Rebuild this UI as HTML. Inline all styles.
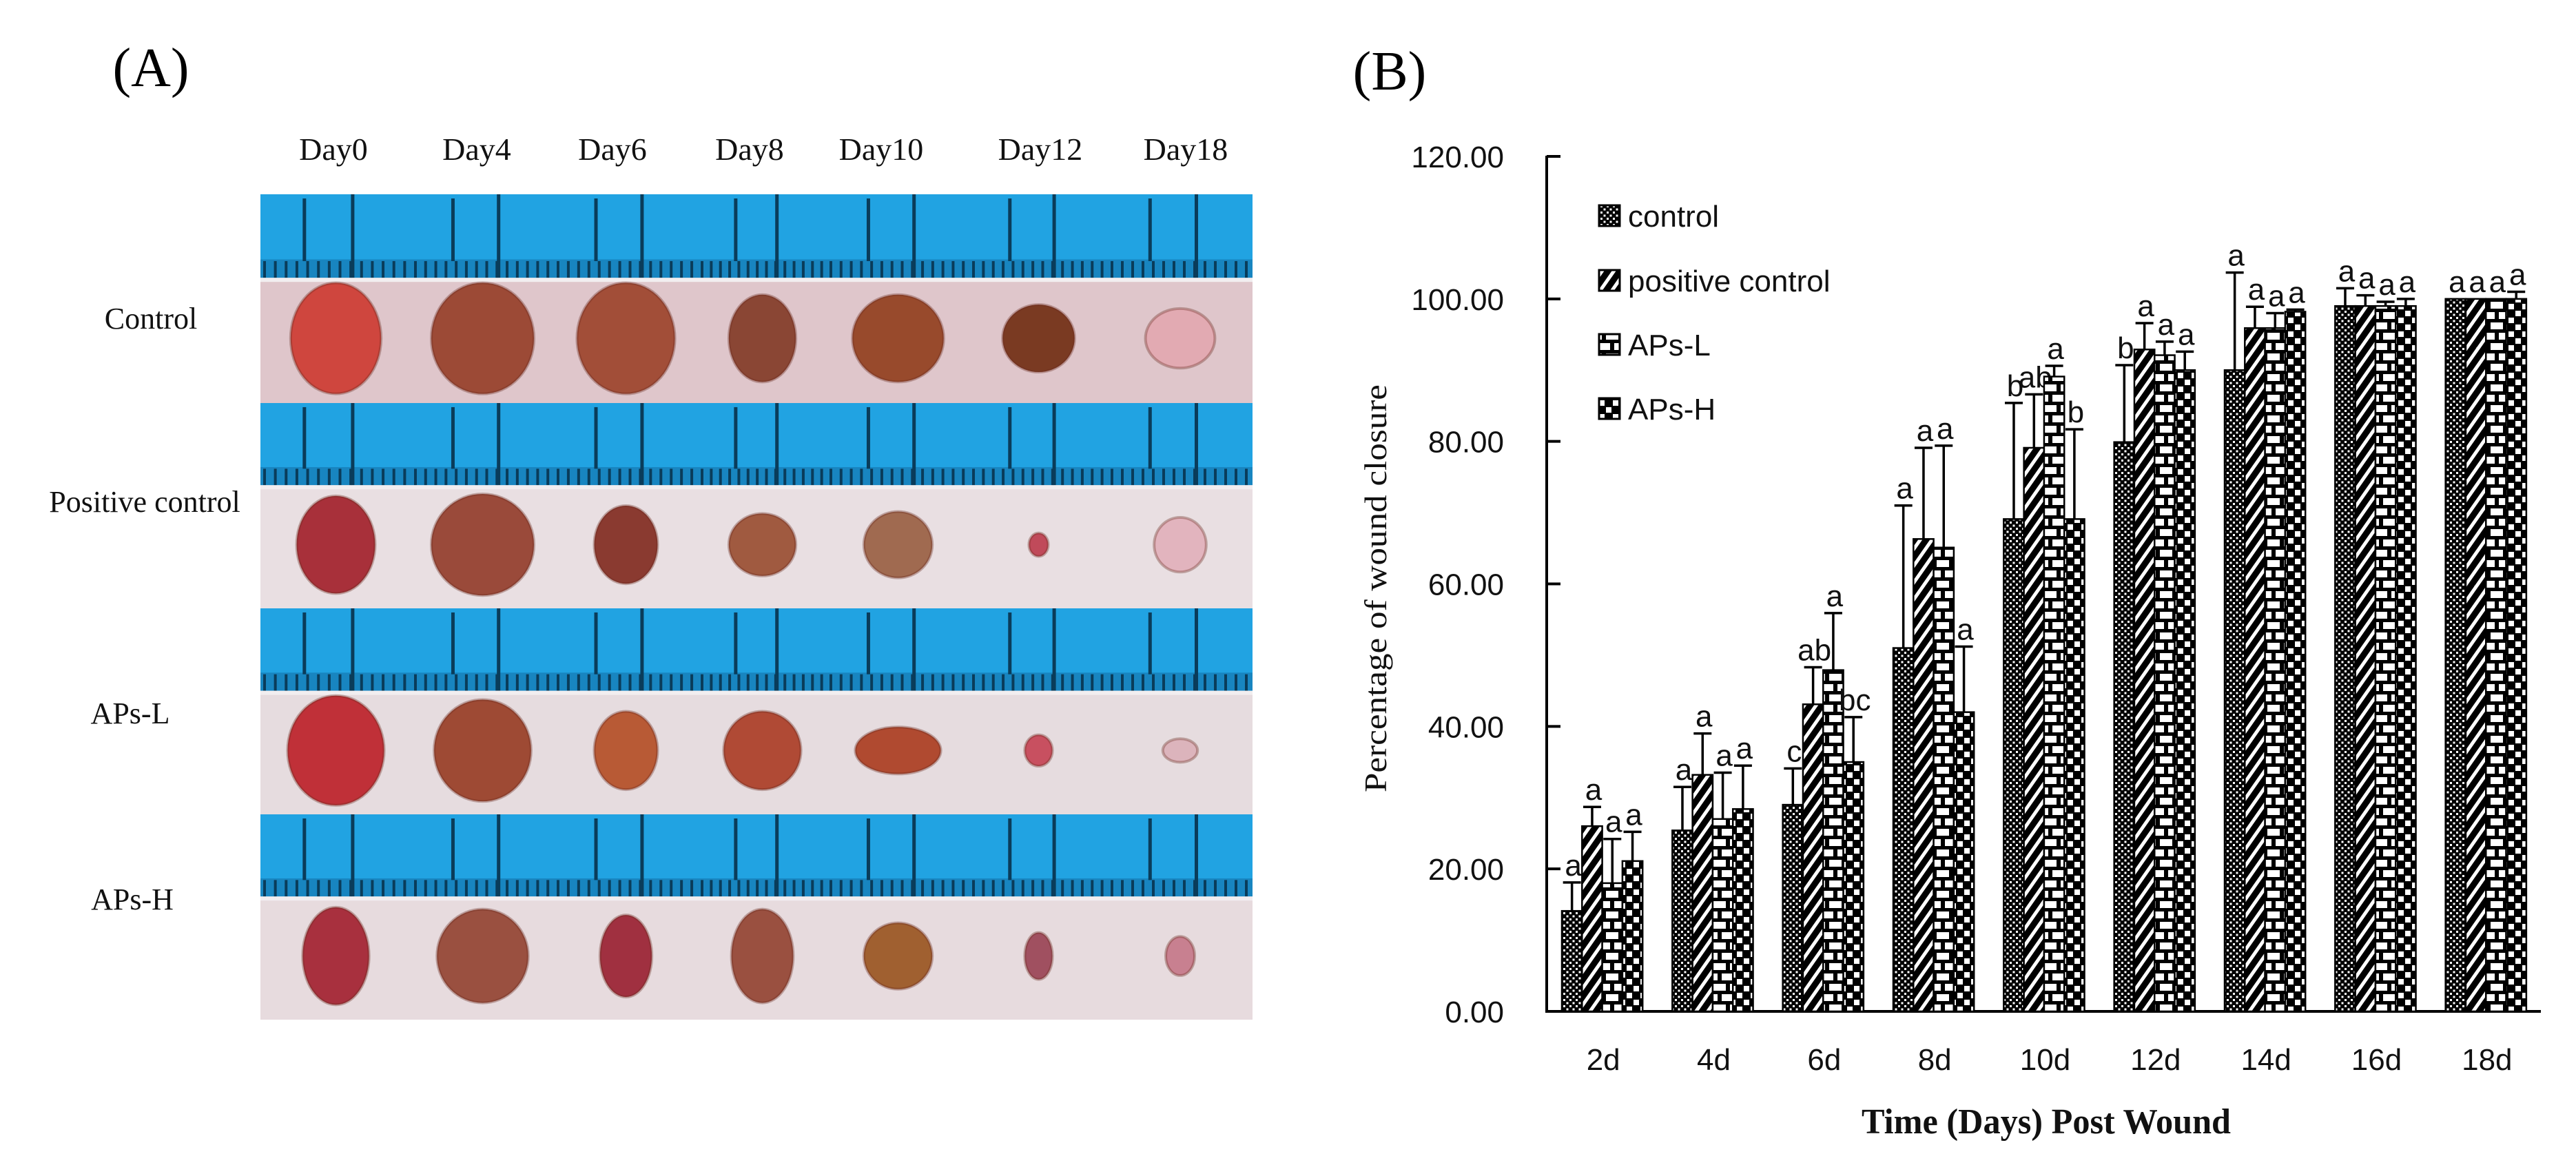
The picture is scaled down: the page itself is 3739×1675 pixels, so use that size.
<!DOCTYPE html>
<html><head><meta charset="utf-8"><style>
html,body{margin:0;padding:0;background:#fff}
svg{display:block}
.sans{font-family:"Liberation Sans",sans-serif}
.serif{font-family:"Liberation Serif",serif}
</style></head><body>
<svg id="fig" width="3739" height="1675" viewBox="0 0 3739 1675" xmlns="http://www.w3.org/2000/svg">
<defs>
<pattern id="pCtrl" patternUnits="userSpaceOnUse" width="9" height="9"><rect width="9" height="9" fill="#000"/><rect x="1" y="1" width="3" height="3" fill="#fff"/><rect x="5.5" y="5.5" width="3" height="3" fill="#fff"/></pattern>
<pattern id="pPos" patternUnits="userSpaceOnUse" width="14" height="14" patternTransform="rotate(35)"><rect width="14" height="14" fill="#000"/><rect x="0" y="0" width="5" height="14" fill="#fff"/></pattern>
<pattern id="pL" patternUnits="userSpaceOnUse" width="24" height="30"><rect width="24" height="30" fill="#000"/><rect x="3" y="3" width="18" height="10" fill="#fff"/><rect x="-9" y="18" width="18" height="10" fill="#fff"/><rect x="15" y="18" width="18" height="10" fill="#fff"/></pattern>
<pattern id="pH" patternUnits="userSpaceOnUse" width="20" height="20"><rect width="20" height="20" fill="#000"/><rect x="1" y="1" width="8" height="8" fill="#fff"/><rect x="11" y="11" width="8" height="8" fill="#fff"/></pattern>
</defs>

<!-- Panel A -->
<text x="219" y="125" text-anchor="middle" class="serif" font-size="80">(A)</text>
<g id="photoGrid"></g>

<!-- Panel B -->
<text x="2017" y="130" text-anchor="middle" class="serif" font-size="80">(B)</text>
<g id="chart"></g>
</svg>
<script>
// ---------- Chart data ----------
const categories = ["2d","4d","6d","8d","10d","12d","14d","16d","18d"];
const seriesNames = ["control","positive control","APs-L","APs-H"];
const controlVals = [14.1,25.4,29.0,51.0,69.1,79.9,90.0,99.0,100.0];
const positiveVals = [26.0,33.2,43.1,66.3,79.1,92.9,95.9,99.0,100.0];
const apsLVals = [18.0,27.0,47.9,65.1,89.1,92.1,95.9,99.0,100.0];
const apsHVals = [21.1,28.4,35.0,42.0,69.1,90.0,98.2,99.0,100.0];
const controlErr = [4.0,6.1,5.1,20.0,16.3,10.8,13.7,2.5,0];
const positiveErr = [2.7,5.8,5.2,12.8,7.5,3.7,3.0,1.5,0];
const apsLErr = [6.2,6.5,8.0,14.3,1.5,1.9,2.1,0.6,0];
const apsHErr = [4.1,6.1,6.3,9.2,12.6,2.6,0.3,1.0,1.0];
const controlSig = ["a","a","c","a","b","b","a","a","a"];
const positiveSig = ["a","a","ab","a","ab","a","a","a","a"];
const apsLSig = ["a","a","a","a","a","a","a","a","a"];
const apsHSig = ["a","a","bc","a","b","a","a","a","a"];
const yTicks = [0,20,40,60,80,100,120];
const yTickLabels = ["0.00","20.00","40.00","60.00","80.00","100.00","120.00"];

const NS="http://www.w3.org/2000/svg";
function mk(tag,attrs,parent){const e=document.createElementNS(NS,tag);for(const k in attrs)e.setAttribute(k,attrs[k]);parent.appendChild(e);return e;}

const X0=2245,X1=3688,Y0=1468,Y1=227,YMAX=120;
function yScale(v){return Y0-(v/YMAX)*(Y0-Y1);}
const catW=(X1-X0)/categories.length;
function catX(i){return X0+i*catW;}
const barW=29.3, groupOff=22;
function barX(ci,si){return catX(ci)+groupOff+si*barW;}

const chart=document.getElementById('chart');
const fills=["url(#pCtrl)","url(#pPos)","url(#pL)","url(#pH)"];
const vals=[controlVals,positiveVals,apsLVals,apsHVals];
const errs=[controlErr,positiveErr,apsLErr,apsHErr];
const sigs=[controlSig,positiveSig,apsLSig,apsHSig];
const sKeys=["control","positive","aps-l","aps-h"];

let ax=mk('line',{x1:X0,y1:Y1-1,x2:X0,y2:Y0,stroke:'#000','stroke-width':4},chart);


let bx=mk('line',{x1:X0-2,y1:Y0,x2:X1,y2:Y0,stroke:'#000','stroke-width':4},chart);



yTicks.forEach((t,i)=>{
  const y=yScale(t);
  const tk=mk('line',{x1:X0,y1:y,x2:X0+20,y2:y,stroke:'#000','stroke-width':4},chart);
  
  
  const lb=mk('text',{x:2183,y:y+16,'text-anchor':'end',class:'sans','font-size':44,fill:'#111'},chart);
  lb.textContent=yTickLabels[i];
  
  
});

categories.forEach((c,ci)=>{
  const lb=mk('text',{x:catX(ci)+catW/2+2,y:1553,'text-anchor':'middle',class:'sans','font-size':44,fill:'#111'},chart);
  lb.textContent=c;
  
  
  for(let si=0;si<4;si++){
    const v=vals[si][ci], x=barX(ci,si), y=yScale(v);
    const r=mk('rect',{x:x,y:y,width:barW,height:Y0-y,fill:fills[si],stroke:'#000','stroke-width':2.5},chart);
    
    
    const e=errs[si][ci], cx=x+barW/2, ye=yScale(v+e);
    if(e>0){
      const l=mk('line',{x1:cx,y1:y,x2:cx,y2:ye,stroke:'#000','stroke-width':3.5},chart);
      
      
      const cp=mk('line',{x1:cx-13,y1:ye,x2:cx+13,y2:ye,stroke:'#000','stroke-width':3.5},chart);
      
      
    }
    const s=mk('text',{x:cx+2,y:ye-10,'text-anchor':'middle',class:'sans','font-size':44,fill:'#111'},chart);
    s.textContent=sigs[si][ci];
    
    
  }
});

const legY=[313,407,500,593];
seriesNames.forEach((n,i)=>{
  const sw=mk('rect',{x:2321,y:legY[i]-15,width:30,height:30,fill:fills[i],stroke:'#000','stroke-width':3},chart);
  
  
  const t=mk('text',{x:2363,y:legY[i]+16,class:'sans','font-size':44,fill:'#111'},chart);
  t.textContent=n;
  
  
});

const yt=mk('text',{x:0,y:0,transform:'translate(2012,854) rotate(-90)','text-anchor':'middle',class:'serif','font-size':46,textLength:592,lengthAdjust:'spacingAndGlyphs',fill:'#111'},chart);
yt.textContent='Percentage of wound closure';


const xt=mk('text',{x:2970,y:1645,'text-anchor':'middle',class:'serif','font-size':52,'font-weight':'bold',textLength:536,lengthAdjust:'spacingAndGlyphs',fill:'#111'},chart);
xt.textContent='Time (Days) Post Wound';



// ---------- Panel A photos ----------
const dayLabels=["Day0","Day4","Day6","Day8","Day10","Day12","Day18"];
const dayLabelX=[484,692,889,1088,1279,1510,1721];
const rowLabels=["Control","Positive control","APs-L","APs-H"];
const rowLabelX=[219,210,189,192];
const rowLabelY=[462,728,1035,1305];
const colB=[378,597,804,1013,1200,1407,1608,1818];
const rowB=[282,585,883,1182,1480];
const woundCol=[
 ["#cf463e","#9c4a36","#a24e38","#8a4634","#984a2c","#7a3a22","#e2aab2"],
 ["#a8303a","#9a4a3a","#8a3a30","#a05a40","#a06a50","#c04a5a","#e2b4be"],
 ["#c03038","#9e4a34","#b85a35","#b04a35","#b04a30","#c85060","#dcb4bc"],
 ["#a8303e","#9a5040","#a03040","#9a5040","#a06030","#a05060","#c88090"]];
const woundSize=[
 [[0.30,0.28],[0.36,0.28],[0.34,0.28],[0.26,0.22],[0.32,0.22],[0.26,0.17],[0.24,0.15]],
 [[0.26,0.25],[0.36,0.26],[0.22,0.20],[0.26,0.16],[0.24,0.17],[0.07,0.06],[0.18,0.14]],
 [[0.32,0.28],[0.34,0.26],[0.22,0.20],[0.30,0.20],[0.30,0.12],[0.10,0.08],[0.12,0.06]],
 [[0.22,0.25],[0.32,0.24],[0.18,0.21],[0.24,0.24],[0.24,0.17],[0.10,0.12],[0.10,0.10]]];
const skinCol=["#dfc6cb","#e9dfe2","#e6dcdf","#e7dbde"];
const grid=document.getElementById('photoGrid');
dayLabels.forEach((d,i)=>{
  const t=mk('text',{x:dayLabelX[i],y:232,'text-anchor':'middle',class:'serif','font-size':46,fill:'#111'},grid);
  t.textContent=d;
  
  
});
rowLabels.forEach((r,i)=>{
  const t=mk('text',{x:rowLabelX[i],y:rowLabelY[i]+15,'text-anchor':'middle',class:'serif','font-size':44,fill:'#111'},grid);
  t.textContent=r;
  
  
});
for(let r=0;r<4;r++){for(let c=0;c<7;c++){
  const x=colB[c],y=rowB[r],w=colB[c+1]-x,h=rowB[r+1]-y;
  const g=mk('g',{},grid);
  
  
  mk('rect',{x:x,y:y,width:w,height:h,fill:skinCol[r]},g);
  const rh=h*0.40;
  mk('rect',{x:x,y:y,width:w,height:rh,fill:'#21a3e2'},g);
  mk('rect',{x:x,y:y+rh*0.78,width:w,height:rh*0.22,fill:'#1885c0'},g);
  for(let k=0;k<14;k++){mk('rect',{x:x+4+k*w/14,y:y+rh*0.8,width:4,height:rh*0.2,fill:'#0a3c5a'},g);}
  mk('rect',{x:x+w*0.6,y:y,width:5,height:rh,fill:'#0a3c5a'},g);
  mk('rect',{x:x+w*0.28,y:y+rh*0.05,width:5,height:rh*0.75,fill:'#0a3c5a'},g);
  mk('rect',{x:x,y:y+rh,width:w,height:6,fill:'#f2eef0'},g);
  const s=woundSize[r][c];
  mk('ellipse',{cx:x+w*0.5,cy:y+h*0.69,rx:w*s[0],ry:h*s[1]*0.95,fill:woundCol[r][c],stroke:'#6a2a20','stroke-opacity':0.35,'stroke-width':4},g);
}}
</script>
</body></html>
